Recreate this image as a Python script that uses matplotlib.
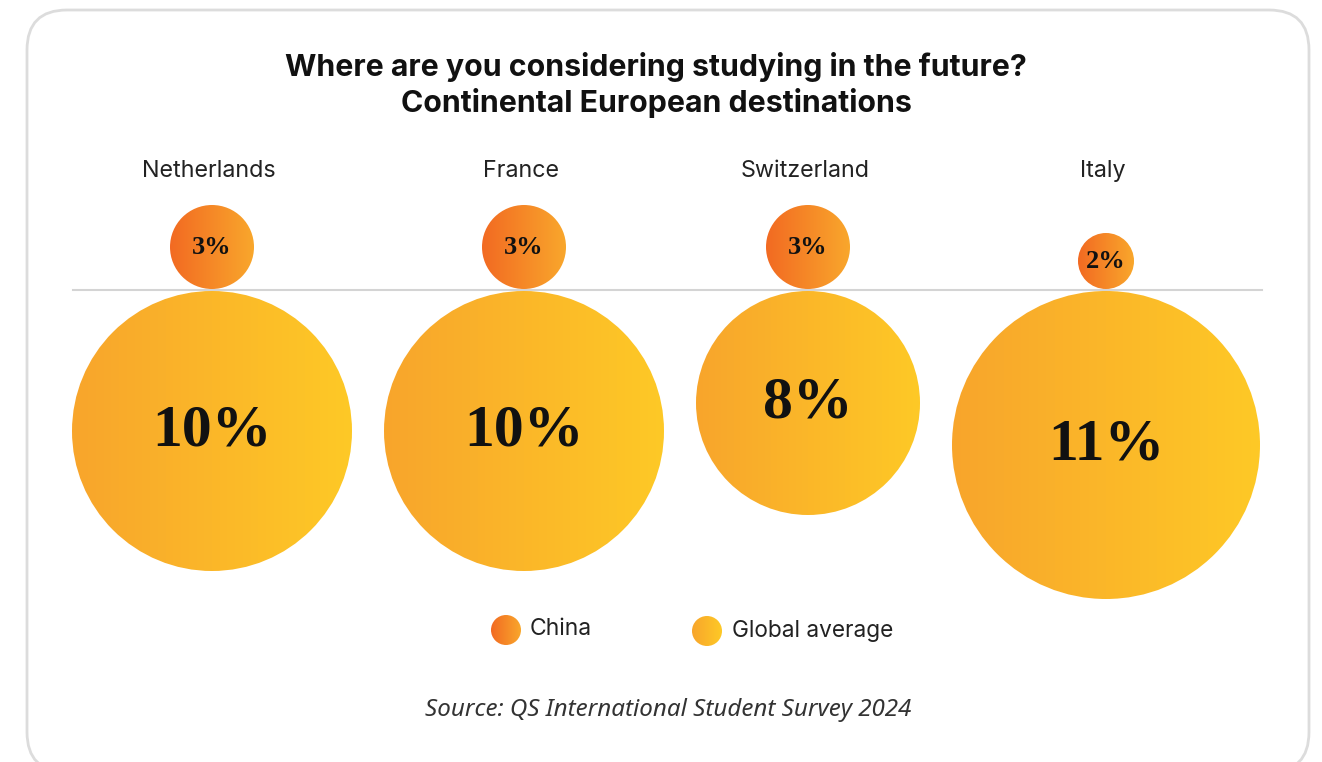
import numpy as np
import matplotlib.pyplot as plt
from matplotlib.patches import Circle, FancyBboxPatch
from matplotlib.colors import LinearSegmentedColormap

# Share of respondents considering each destination (%)
countries = ['Netherlands', 'France', 'Switzerland', 'Italy']
china = [3, 3, 3, 2]
global_avg = [10, 10, 8, 11]

title = 'Where are you considering studying in the future?\nContinental European destinations'
source = 'Source: QS International Student Survey 2024'

W, H = 1322, 762
fig = plt.figure(figsize=(W / 100, H / 100), dpi=100)
ax = fig.add_axes([0, 0, 1, 1])
ax.set_xlim(0, W)
ax.set_ylim(H, 0)
ax.set_aspect('equal')
ax.axis('off')

orange = LinearSegmentedColormap.from_list('orange', ['#f26a22', '#f9a72c'])
yellow = LinearSegmentedColormap.from_list('yellow', ['#f8a52c', '#fec926'])
ramp = np.linspace(0, 1, 256).reshape(1, -1)


def bubble(cx, cy, r, cmap):
    circ = Circle((cx, cy), r, facecolor='none', edgecolor='none')
    ax.add_patch(circ)
    im = ax.imshow(ramp, cmap=cmap, extent=[cx - r, cx + r, cy + r, cy - r],
                   aspect='auto', interpolation='bilinear', zorder=2)
    im.set_clip_path(circ)


# card outline
card = FancyBboxPatch((27, 10), 1282, 762, boxstyle='round,pad=0,rounding_size=40',
                      facecolor='white', edgecolor='#dcdcdc', linewidth=2, zorder=0)
ax.add_patch(card)

ax.text(656, 85, title, ha='center', va='center', fontsize=21.8, fontweight='bold',
        family='Inter', color='#111111', linespacing=1.27)

# bubble radius proportional to the value, laid out left to right
scale = 14
baseline = 290
gap = 32
x = 72
for name, c, g in zip(countries, china, global_avg):
    rg = g * scale
    rc = c * scale
    cx = x + rg
    x = cx + rg + gap

    bubble(cx, baseline + rg + 1, rg, yellow)
    bubble(cx, baseline - rc - 1, rc, orange)

    ax.text(cx - 3, 171, name, ha='center', va='center', fontsize=16.8,
            family='Inter', color='#222222')
    ax.text(cx, baseline + rg + 1, f'{g}%', ha='center', va='center', fontsize=43,
            fontweight='bold', family='Liberation Serif', color='#111111', zorder=3)
    ax.text(cx, baseline - rc - 1, f'{c}%', ha='center', va='center', fontsize=19,
            fontweight='bold', family='Liberation Serif', color='#111111', zorder=3)

ax.plot([73, 1262], [baseline, baseline], color='#d4d4d4', linewidth=1.5, zorder=1)

# legend
bubble(506, 630, 15, orange)
ax.text(530, 629, 'China', ha='left', va='center', fontsize=16.5, family='Inter', color='#222222')
bubble(707, 631, 15, yellow)
ax.text(732, 631, 'Global average', ha='left', va='center', fontsize=16.3, family='Inter',
        color='#222222')

ax.text(668, 710, source, ha='center', va='center', fontsize=17.4, style='italic',
        family='Noto Sans', color='#333333')

fig.savefig('out.png', dpi=100, facecolor='white')
